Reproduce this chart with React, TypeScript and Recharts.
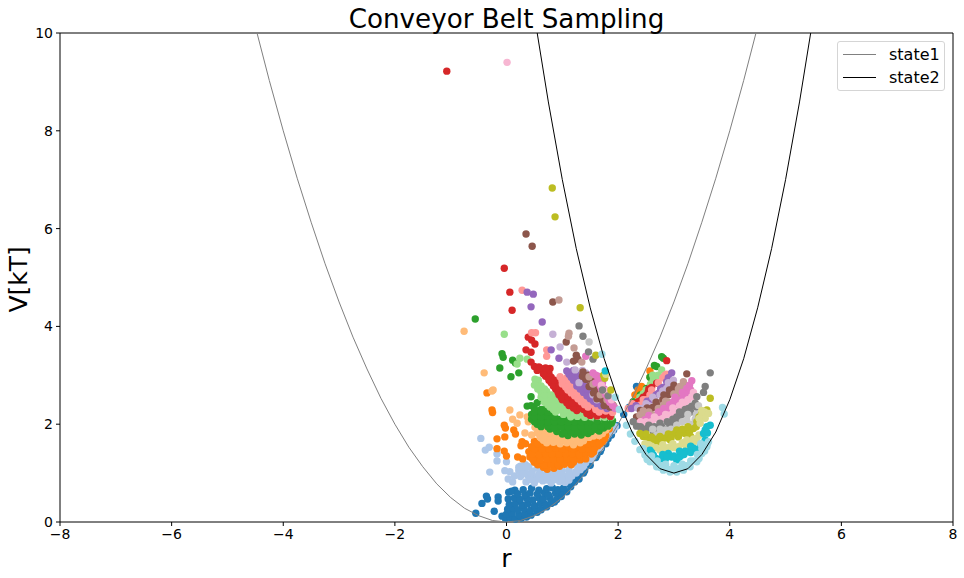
import { ScatterChart, Scatter, XAxis, YAxis, ReferenceLine } from "recharts"

type Pair = [number, number]

const xTicks = [-8, -6, -4, -2, 0, 2, 4, 6, 8]
const yTicks = [0, 2, 4, 6, 8, 10]

const state1Curve: Pair[] = [
  [-4.47, 10], [-4.25, 9.03], [-4, 8], [-3.75, 7.03], [-3.5, 6.13], [-3.25, 5.28], [-3, 4.5], [-2.75, 3.78],
  [-2.5, 3.13], [-2.25, 2.53], [-2, 2], [-1.75, 1.53], [-1.5, 1.13], [-1.25, 0.78], [-1, 0.5], [-0.75, 0.28],
  [-0.5, 0.13], [-0.25, 0.03], [0, 0], [0.25, 0.03], [0.5, 0.13], [0.75, 0.28], [1, 0.5], [1.25, 0.78],
  [1.5, 1.13], [1.75, 1.53], [2, 2], [2.25, 2.53], [2.5, 3.13], [2.75, 3.78], [3, 4.5], [3.25, 5.28],
  [3.5, 6.13], [3.75, 7.03], [4, 8], [4.25, 9.03], [4.47, 10],
]

const state2Curve: Pair[] = [
  [0.55, 10], [0.75, 8.59], [1, 7], [1.25, 5.59], [1.5, 4.38], [1.75, 3.34], [2, 2.5], [2.25, 1.84],
  [2.5, 1.38], [2.75, 1.09], [3, 1], [3.25, 1.09], [3.5, 1.38], [3.75, 1.84], [4, 2.5], [4.25, 3.34],
  [4.5, 4.38], [4.75, 5.59], [5, 7], [5.25, 8.59], [5.45, 10],
]

const blueDots: Pair[] = [
  [-0.55, 0.18], [-0.44, 0.38], [-0.36, 0.53], [-0.34, 0.47], [-0.15, 0.51], [-0.15, 0.43], [-0.22, 0.22], [-0.08, 0.12],
  [0.04, 0.61], [0.15, 0.65], [0.09, 0.63],
  [-0.02, 0.07], [0.07, 0.09], [0.16, 0.06], [0.27, 0.08], [0.36, 0.1],
  [0, 0.16], [0.1, 0.18], [0.22, 0.15], [0.33, 0.17], [0.44, 0.14], [0.55, 0.2],
  [0.02, 0.26], [0.12, 0.28], [0.2, 0.25], [0.31, 0.27], [0.43, 0.24], [0.52, 0.28], [0.62, 0.25], [0.72, 0.31],
  [0.05, 0.36], [0.16, 0.38], [0.28, 0.35], [0.38, 0.37], [0.5, 0.34], [0.61, 0.38], [0.7, 0.36], [0.8, 0.38], [0.86, 0.41],
  [0.03, 0.47], [0.14, 0.49], [0.24, 0.46], [0.36, 0.48], [0.47, 0.45], [0.58, 0.49], [0.66, 0.47], [0.78, 0.49], [0.9, 0.46], [0.98, 0.52],
  [0.2, 0.58], [0.33, 0.56], [0.42, 0.59], [0.55, 0.57], [0.68, 0.6], [0.75, 0.56], [0.88, 0.59], [1, 0.6], [1.08, 0.62],
  [0.3, 0.66], [0.45, 0.69], [0.58, 0.65], [0.72, 0.68], [0.82, 0.7], [0.92, 0.66], [1.02, 0.69], [1.15, 0.72],
  [1.1, 0.8], [1.22, 0.82], [1.3, 0.88], [1.28, 0.93], [1.38, 1], [1.4, 1.05], [1.5, 1.16],
  [1.48, 1.2], [1.6, 1.32], [1.62, 1.37], [1.68, 1.44], [1.7, 1.5], [1.78, 1.6], [1.82, 1.7], [1.88, 1.78], [1.92, 1.88], [1.98, 1.97],
  [2.1, 2.2], [2.2, 2.35], [2.33, 2.77],
]

const lightBlueDots: Pair[] = [
  [-0.46, 1.71], [-0.38, 1.47], [-0.31, 1.53], [-0.17, 1.39], [-0.17, 1.25], [0, 1.23], [-0.3, 1.02], [-0.03, 1.05], [0.06, 1.03],
  [0.03, 0.88], [0.11, 0.82], [0.14, 0.94],
  [0.35, 0.82], [0.5, 0.8], [0.65, 0.84], [0.8, 0.8], [0.95, 0.83], [1.05, 0.81],
  [0.25, 0.93], [0.38, 0.95], [0.52, 0.92], [0.66, 0.94], [0.8, 0.91], [0.92, 0.95], [1.05, 0.93], [1.17, 0.94],
  [0.22, 1.05], [0.33, 1.07], [0.46, 1.04], [0.6, 1.06], [0.75, 1.03], [0.88, 1.07], [1, 1.05], [1.12, 1.06], [1.24, 1.03], [1.32, 1.07],
  [0.25, 1.14], [0.34, 1.17], [1.2, 1.2], [1.32, 1.18], [1.42, 1.21], [1.48, 1.35], [1.55, 1.33], [1.62, 1.5], [1.68, 1.52], [1.74, 1.65], [1.83, 1.8], [1.95, 1.95],
  [0.42, 0.87], [0.58, 0.88], [0.73, 0.86], [0.87, 0.87], [1, 0.88], [1.12, 0.86],
  [0.3, 0.99], [0.44, 1], [0.58, 0.98], [0.72, 0.99], [0.86, 1], [0.98, 0.98], [1.12, 0.99], [1.25, 1], [1.36, 1.12],
  [0.28, 1.12], [0.4, 1.13], [0.55, 1.11], [0.7, 1.1], [1.28, 1.12], [1.38, 1.14], [1.5, 1.28], [1.58, 1.42], [1.66, 1.58], [1.78, 1.72], [1.9, 1.87], [0.22, 1.12],
]

const orangeDots: Pair[] = [
  [-0.35, 2.64], [-0.26, 2.29], [-0.25, 2.24], [-0.04, 1.98], [-0.02, 1.92], [0.13, 1.88], [0.16, 1.8], [-0.03, 1.74], [-0.17, 1.7], [-0.17, 1.5],
  [-0.04, 1.45], [0, 1.35], [0.2, 1.33], [0.29, 1.29], [0.28, 1.64], [0.26, 1.56], [0.34, 1.6],
  [0.66, 1.12], [0.73, 1.08], [0.85, 1.1], [0.95, 1.14],
  [0.5, 1.22], [0.62, 1.2], [0.74, 1.24], [0.86, 1.21], [0.98, 1.23], [1.1, 1.25], [1.2, 1.22],
  [0.42, 1.33], [0.54, 1.31], [0.66, 1.35], [0.78, 1.32], [0.9, 1.34], [1.02, 1.33], [1.14, 1.36], [1.26, 1.32], [1.36, 1.34],
  [0.4, 1.44], [0.52, 1.46], [0.64, 1.43], [0.76, 1.45], [0.88, 1.44], [1, 1.46], [1.12, 1.43], [1.24, 1.45], [1.36, 1.44], [1.48, 1.46], [1.56, 1.43],
  [0.45, 1.54], [0.58, 1.56], [0.7, 1.53], [0.82, 1.55], [0.95, 1.54], [1.08, 1.52], [1.3, 1.53], [1.42, 1.56], [1.52, 1.54], [1.64, 1.56],
  [0.5, 1.65], [0.62, 1.63], [1.5, 1.65], [1.6, 1.67], [1.72, 1.64], [1.68, 1.78], [1.78, 1.77], [1.84, 1.9], [2.3, 2.6], [2.36, 2.7], [2.42, 2.77], [2.57, 3.09],
  [0.56, 1.17], [0.68, 1.16], [0.8, 1.18], [0.92, 1.17], [1.04, 1.18], [1.16, 1.17],
  [0.47, 1.28], [0.6, 1.27], [0.72, 1.29], [0.84, 1.28], [0.96, 1.28], [1.08, 1.29], [1.2, 1.28], [1.32, 1.27], [1.42, 1.29],
  [0.46, 1.39], [0.58, 1.38], [0.7, 1.4], [0.82, 1.39], [0.94, 1.39], [1.06, 1.4], [1.18, 1.39], [1.3, 1.38], [1.42, 1.4], [1.52, 1.39],
  [0.5, 1.5], [0.64, 1.49], [0.76, 1.5], [0.88, 1.51], [1, 1.5], [1.18, 1.5], [1.36, 1.49], [1.47, 1.5], [1.58, 1.51], [1.68, 1.6],
  [0.55, 1.6], [0.68, 1.59], [1.45, 1.6], [1.56, 1.61], [1.66, 1.6], [1.76, 1.7],
]

const lightOrangeDots: Pair[] = [
  [-0.76, 3.9], [-0.4, 3.05], [-0.26, 2.68], [-0.24, 2.7], [0.06, 2.29], [0.24, 2.19], [0.11, 2.1], [0.19, 2.02], [0.37, 2.15], [0.39, 2.05], [0.51, 1.94],
  [0.33, 1.82], [0.45, 1.78], [0.6, 1.74],
  [0.72, 1.62], [0.84, 1.63], [0.96, 1.6], [1.08, 1.62], [1.2, 1.58], [1.32, 1.62],
  [0.62, 1.72], [0.72, 1.74], [0.84, 1.71], [0.98, 1.73], [1.12, 1.7], [1.26, 1.72], [1.38, 1.71], [1.48, 1.73],
  [0.55, 1.82], [0.66, 1.84], [0.78, 1.81], [1.35, 1.8], [1.5, 1.82], [1.62, 1.84], [1.72, 1.81], [0.6, 1.92], [0.7, 1.9], [1.72, 1.92], [1.82, 1.94],
  [2.57, 2.96],
  [0.66, 1.67], [0.78, 1.68], [0.9, 1.66], [1.02, 1.67], [1.14, 1.66], [1.26, 1.67], [1.38, 1.66],
  [0.68, 1.77], [0.9, 1.77], [1.05, 1.76], [1.2, 1.77], [1.32, 1.76], [1.44, 1.77], [1.56, 1.76], [1.66, 1.77],
  [1.56, 1.87], [1.68, 1.87], [1.78, 1.88], [0.72, 1.87],
]

const greenDots: Pair[] = [
  [-0.56, 4.15], [-0.08, 3.44], [-0.06, 3.37], [0.11, 3.31], [0.16, 3.25], [-0.12, 3.15], [0.22, 3.05], [0.08, 2.97],
  [0.44, 2.56], [0.37, 2.37], [0.44, 2.38], [0.64, 2.52],
  [1, 1.8], [1.1, 1.77], [1.22, 1.8], [1.34, 1.78], [1.46, 1.81],
  [0.78, 1.9], [0.9, 1.88], [1.02, 1.91], [1.14, 1.89], [1.26, 1.9], [1.38, 1.88], [1.5, 1.91], [1.62, 1.89], [1.74, 1.92],
  [0.55, 2], [0.68, 2.02], [0.8, 1.99], [0.92, 2.01], [1.04, 2], [1.16, 2.02], [1.28, 1.99], [1.4, 2.01], [1.52, 1.99], [1.64, 2.01], [1.76, 2], [1.88, 2.02],
  [0.45, 2.1], [0.56, 2.12], [0.68, 2.09], [0.8, 2.11], [0.92, 2.1], [1.02, 2.12], [1.12, 2.09],
  [0.45, 2.2], [0.56, 2.22], [0.68, 2.19], [0.8, 2.21], [0.5, 2.32], [0.62, 2.3], [0.72, 2.33], [0.55, 2.44],
  [2.27, 2.46], [2.4, 2.6], [2.51, 2.73], [2.57, 2.96], [2.65, 3.2], [2.69, 3.18], [2.81, 3.35], [2.78, 3.38],
  [0.9, 1.85], [1.04, 1.85], [1.16, 1.84], [1.28, 1.85], [1.4, 1.84], [1.52, 1.85], [1.66, 1.86],
  [0.62, 1.95], [0.74, 1.95], [0.86, 1.94], [0.98, 1.95], [1.1, 1.95], [1.22, 1.94], [1.34, 1.95], [1.46, 1.95], [1.58, 1.94], [1.7, 1.95], [1.82, 1.96],
  [0.5, 2.05], [0.62, 2.05], [0.74, 2.04], [0.86, 2.05], [0.98, 2.05], [1.1, 2.04], [1.22, 2.05], [1.34, 2.05], [1.48, 2.05], [1.62, 2.06], [1.76, 2.06], [1.9, 2.07],
  [0.5, 2.15], [0.62, 2.15], [0.74, 2.16], [0.86, 2.15], [0.5, 2.26], [0.62, 2.26], [0.74, 2.25],
]

const lightGreenDots: Pair[] = [
  [-0.04, 3.84], [0.24, 3.35], [0.37, 3.33], [0.19, 3.23], [0.51, 2.92], [0.57, 2.9], [0.6, 2.77],
  [1.15, 2.15], [1.27, 2.16], [1.4, 2.14], [1.52, 2.15], [1.64, 2.16], [1.76, 2.14], [1.88, 2.15],
  [0.88, 2.25], [1, 2.27], [1.12, 2.24], [1.24, 2.26], [1.36, 2.25], [1.48, 2.24],
  [0.78, 2.35], [0.9, 2.37], [1.02, 2.34], [1.14, 2.36], [0.68, 2.45], [0.8, 2.47], [0.92, 2.44], [1.02, 2.46],
  [0.62, 2.55], [0.74, 2.57], [0.86, 2.54], [0.62, 2.65], [0.72, 2.67], [0.5, 2.8], [0.62, 2.78],
  [2.39, 2.55], [2.5, 2.7], [2.63, 2.9], [2.72, 3], [2.78, 3.11],
  [1.02, 2.2], [1.14, 2.2], [1.26, 2.21], [1.38, 2.2], [1.5, 2.2], [1.62, 2.2], [1.74, 2.19], [1.86, 2.2],
  [0.84, 2.3], [0.96, 2.3], [1.08, 2.3], [1.2, 2.31], [1.32, 2.3], [1.44, 2.3],
  [0.74, 2.4], [0.86, 2.4], [0.98, 2.4], [1.08, 2.41], [1.2, 2.4], [0.68, 2.5], [0.8, 2.51], [0.92, 2.5], [1.02, 2.5],
  [0.68, 2.6], [0.8, 2.6], [0.56, 2.72], [0.68, 2.72],
  [2.45, 2.62], [2.58, 2.82], [2.62, 3], [2.68, 2.98],
]

const redDots: Pair[] = [
  [-1.07, 9.22], [-0.04, 5.19], [0.06, 4.7], [0.1, 4.33], [0.39, 3.78], [0.45, 3.72], [0.51, 3.64], [0.35, 3.52], [0.44, 3.47], [0.44, 3.27],
  [0.5, 3.18], [0.58, 3.17], [0.66, 3.1], [0.78, 3.14], [0.76, 3.04], [0.82, 2.9], [0.9, 2.8],
  [1.5, 2.18], [1.62, 2.17], [1.74, 2.19], [1.86, 2.16],
  [1.26, 2.28], [1.38, 2.3], [1.5, 2.27], [1.12, 2.38], [1.24, 2.4], [1.36, 2.37],
  [1, 2.5], [1.12, 2.52], [1.22, 2.49], [1.32, 2.51], [0.94, 2.6], [1.06, 2.62], [1.16, 2.59],
  [0.88, 2.72], [0.98, 2.7], [0.8, 2.85], [0.7, 2.98], [0.8, 2.96], [0.55, 3.1],
  [2.24, 2.36], [2.36, 2.46], [2.45, 2.55], [2.51, 2.6], [2.54, 2.66], [2.6, 2.75], [2.69, 2.84], [2.87, 3.3],
  [1.44, 2.22], [1.56, 2.23], [1.68, 2.22], [1.8, 2.22], [1.2, 2.33], [1.32, 2.33], [1.44, 2.33], [1.56, 2.32],
  [1.08, 2.44], [1.18, 2.44], [1.3, 2.44], [1.42, 2.43], [0.98, 2.55], [1.1, 2.56], [1.2, 2.55],
  [0.92, 2.66], [1.02, 2.66], [1.14, 2.66], [0.84, 2.78], [0.94, 2.78], [1.04, 2.78], [0.76, 2.9], [0.86, 2.9], [0.96, 2.9],
  [0.66, 3.03], [0.6, 3.15], [0.7, 3.15], [2.3, 2.42], [2.42, 2.5], [2.55, 2.72],
]

const pinkDots: Pair[] = [
  [0.28, 4.74], [0.45, 3.87], [0.52, 3.87], [0.72, 3.52], [0.72, 3.39], [0.96, 2.97], [1, 2.9],
  [1.66, 2.25], [1.78, 2.27], [1.9, 2.24], [1.46, 2.35], [1.58, 2.37], [1.7, 2.34],
  [1.34, 2.46], [1.46, 2.48], [1.58, 2.45], [1.22, 2.58], [1.34, 2.6], [1.46, 2.57],
  [1.1, 2.7], [1.22, 2.72], [1.34, 2.69], [1, 2.82], [1.12, 2.84], [1.24, 2.81], [1.08, 2.95],
  [2.18, 2.32], [2.3, 2.37], [2.39, 2.39], [2.5, 2.5], [2.57, 2.6], [2.84, 3], [2.87, 3.02],
  [1.6, 2.3], [1.72, 2.3], [1.84, 2.3], [1.4, 2.4], [1.52, 2.41], [1.64, 2.4], [1.28, 2.52], [1.4, 2.52], [1.52, 2.51],
  [1.16, 2.64], [1.28, 2.64], [1.4, 2.63], [1.06, 2.76], [1.18, 2.76], [1.3, 2.75], [1, 2.88], [1.12, 2.88],
  [2.25, 2.42], [2.45, 2.5], [2.6, 2.7], [2.72, 2.85], [2.8, 2.95],
]

const purpleDots: Pair[] = [
  [0.37, 4.7], [0.48, 4.66], [0.44, 4.4], [0.64, 4.09], [0.8, 3.52], [0.94, 3.35], [1.08, 3.09],
  [1.8, 2.32], [1.92, 2.34], [1.62, 2.42], [1.74, 2.44], [1.5, 2.52], [1.62, 2.54],
  [1.38, 2.65], [1.5, 2.67], [1.62, 2.64], [1.26, 2.78], [1.38, 2.8], [1.5, 2.77],
  [1.2, 2.9], [1.32, 2.92], [1.44, 2.89], [1.12, 3.02], [1.24, 3], [1.34, 3.03], [1.2, 3.1],
  [2.24, 2.32], [2.45, 2.32], [2.6, 2.5], [2.72, 2.63], [2.8, 2.75], [2.87, 2.87], [2.96, 3.05],
  [1.7, 2.37], [1.84, 2.38], [1.56, 2.47], [1.68, 2.47], [1.44, 2.58], [1.56, 2.58], [1.68, 2.58],
  [1.32, 2.72], [1.44, 2.72], [1.56, 2.72], [1.26, 2.84], [1.38, 2.84], [1.5, 2.84], [1.16, 2.96], [1.28, 2.96], [1.4, 2.96],
  [2.32, 2.38], [2.52, 2.47], [2.68, 2.6], [2.76, 2.72], [2.9, 2.95],
]

const lightPurpleDots: Pair[] = [
  [0.83, 3.84], [0.96, 3.58], [1.08, 3.27], [1.23, 3.11], [1.88, 2.38], [1.72, 2.55], [1.58, 2.78], [1.46, 2.98],
  [1.36, 3.1], [1.3, 2.85], [1.55, 2.6],
  [2.42, 2.32], [2.48, 2.32], [2.55, 2.38], [2.66, 2.49], [2.75, 2.6], [2.87, 2.73], [2.93, 2.8], [2.99, 2.9],
  [1.8, 2.46], [1.66, 2.66], [1.5, 2.86], [1.42, 3.05], [1.62, 2.5],
  [2.35, 2.33], [2.5, 2.42], [2.62, 2.55], [2.8, 2.68], [2.9, 2.85],
]

const brownDots: Pair[] = [
  [0.35, 5.89], [0.46, 5.64], [0.83, 4.5], [1.07, 3.68], [1.25, 3.41], [1.2, 3.29], [1.28, 3.33], [1.37, 3.07], [1.42, 2.92],
  [1.9, 2.4], [1.8, 2.42], [1.72, 2.5], [1.62, 2.52], [1.66, 2.62], [1.56, 2.64], [1.6, 2.75], [1.48, 2.77], [1.54, 2.88], [1.46, 3], [1.36, 2.98],
  [2.33, 2.15], [2.45, 2.22], [2.57, 2.29], [2.62, 2.34], [2.69, 2.39], [2.8, 2.5], [2.9, 2.6], [2.95, 2.66], [2.99, 2.73], [3.23, 3.03],
  [1.85, 2.35], [1.76, 2.46], [1.68, 2.58], [1.52, 2.78], [1.44, 2.92], [1.58, 2.7], [1.75, 2.38],
  [2.4, 2.28], [2.52, 2.33], [2.68, 2.45], [2.82, 2.6], [2.92, 2.7], [3, 2.8],
]

const lightBrownDots: Pair[] = [
  [0.94, 4.54], [1.12, 3.86], [1.11, 3.8], [1.21, 3.56], [1.35, 3.27], [1.48, 2.97], [1.55, 2.82], [1.68, 2.6], [1.8, 2.5], [1.92, 2.38],
  [2.39, 2.19], [2.5, 2.17], [2.63, 2.19], [2.81, 2.39], [2.9, 2.45], [3.05, 2.56], [3.1, 2.65], [3.11, 2.77], [3.17, 2.87], [3.2, 2.8],
  [2.45, 2.27], [2.55, 2.25], [2.72, 2.32], [2.85, 2.47], [3, 2.62], [3.08, 2.72], [3.15, 2.75],
]

const magentaDots: Pair[] = [
  [1.42, 3.39], [1.55, 3.05], [1.64, 2.98], [1.6, 2.85], [1.72, 2.85], [1.7, 2.72], [1.75, 2.72], [1.78, 2.6], [1.85, 2.45], [1.95, 2.32],
  [2.48, 2.09], [2.6, 2.12], [2.69, 2.15], [2.78, 2.2], [2.87, 2.29], [2.99, 2.46], [3.05, 2.4], [3.11, 2.49], [3.17, 2.56], [3.23, 2.73], [3.28, 2.8], [3.32, 2.89],
  [1.9, 2.38], [1.82, 2.52], [1.66, 2.9], [1.76, 2.66], [1.6, 3], [1.68, 2.78],
  [2.55, 2.18], [2.72, 2.25], [2.82, 2.32], [2.92, 2.4], [3.02, 2.55], [3.15, 2.65], [3.25, 2.62], [3.3, 2.7],
]

const lightMagentaDots: Pair[] = [
  [0.01, 9.4], [1.88, 2.5], [1.78, 2.68], [1.7, 2.8],
  [2.45, 1.98], [2.55, 2], [2.6, 2.05], [2.72, 2.09], [2.8, 2.12], [2.93, 2.19], [3, 2.25], [3.11, 2.29], [3.2, 2.4], [3.32, 2.56],
  [2.4, 2.05], [2.5, 2.05], [2.65, 2.15], [2.85, 2.2], [2.98, 2.33], [3.1, 2.38], [3.15, 2.45], [3.25, 2.5], [3.35, 2.65],
]

const grayDots: Pair[] = [
  [1.3, 4.01], [1.37, 3.8], [1.47, 3.48], [1.55, 3.33], [1.72, 2.7], [1.82, 2.58],
  [2.27, 2.05], [2.33, 1.96], [2.4, 1.95], [2.51, 1.91], [2.63, 1.85], [2.7, 1.9], [2.78, 1.95], [2.87, 1.9], [2.93, 1.98], [3, 2],
  [3.08, 2.12], [3.17, 2.2], [3.26, 2.32], [3.32, 2.37], [3.38, 2.43], [3.41, 2.56], [3.53, 2.65], [3.56, 2.77], [3.65, 3.05],
  [2.45, 1.88], [2.55, 1.98], [2.65, 1.95], [2.75, 2.02], [2.88, 2.05], [2.98, 2.1], [3.05, 2.15], [3.1, 2.25], [3.2, 2.3], [3.3, 2.25], [3.4, 2.35],
]

const lightGrayDots: Pair[] = [
  [1.48, 3.68], [2.69, 1.78], [2.8, 1.82], [2.9, 1.78], [3, 1.85], [3.08, 1.88], [3.23, 2.09], [3.3, 2], [3.44, 2.38], [3.53, 2.19],
  [2.62, 1.9], [2.75, 1.9], [2.85, 1.88], [2.95, 1.9], [3.05, 1.98], [3.15, 2.05], [3.25, 2.2], [3.38, 2.1], [3.4, 2.2],
]

const oliveDots: Pair[] = [
  [0.82, 6.83], [0.87, 6.24], [1.32, 4.38], [1.6, 3.41], [1.76, 2.94], [1.74, 3], [1.87, 2.7],
  [2.39, 1.81], [2.45, 1.75], [2.54, 1.71], [2.63, 1.64], [2.7, 1.7], [2.78, 1.64], [2.85, 1.72], [2.93, 1.68], [3, 1.8], [3.08, 1.74],
  [3.2, 1.81], [3.28, 1.85], [3.35, 1.91], [3.41, 2.05], [3.5, 2.22], [3.59, 2.29], [3.65, 2.53],
  [2.5, 1.8], [2.6, 1.74], [2.68, 1.6], [2.75, 1.75], [2.9, 1.8], [2.95, 1.72], [3.05, 1.88], [3.1, 1.8], [3.15, 1.9], [3.25, 1.95], [3.3, 1.75],
  [3.4, 1.95], [3.45, 2.15], [3.55, 2.2],
]

const lightOliveDots: Pair[] = [
  [1.78, 3.02], [2.48, 1.6], [2.6, 1.55], [2.75, 1.47], [2.85, 1.52], [2.93, 1.54], [3.08, 1.54], [3.23, 1.68], [3.3, 1.6], [3.41, 1.71],
  [3.47, 2.02], [3.5, 2.19], [3.55, 2.25], [3.56, 2.12], [3.62, 2.22],
  [2.55, 1.58], [2.68, 1.52], [2.8, 1.58], [2.98, 1.6], [3, 1.52], [3.15, 1.62], [3.2, 1.58], [3.35, 1.7], [3.38, 1.65], [3.45, 1.78], [3.45, 2.12], [3.5, 2.28],
]

const cyanDots: Pair[] = [
  [1.77, 3.09], [2.57, 1.47], [2.63, 1.37], [2.72, 1.27], [2.84, 1.27], [2.9, 1.4], [2.96, 1.33], [3.05, 1.27], [3.14, 1.37], [3.2, 1.45],
  [3.26, 1.44], [3.35, 1.51], [3.47, 1.54], [3.53, 1.81], [3.56, 1.68], [3.56, 1.88], [3.59, 1.95], [3.65, 1.98],
  [2.6, 1.42], [2.68, 1.3], [2.78, 1.3], [2.8, 1.38], [2.88, 1.33], [3, 1.35], [3.1, 1.33], [3.1, 1.45], [3.18, 1.38], [3.3, 1.42], [3.3, 1.55], [3.4, 1.48], [3.52, 1.6], [3.6, 1.82],
]

const lightCyanDots: Pair[] = [
  [1.71, 3.43], [1.95, 2.55], [2.02, 2.3], [2.15, 1.98], [2.22, 1.8], [2.3, 1.65], [2.39, 1.48],
  [2.48, 1.37], [2.57, 1.23], [2.69, 1.13], [2.81, 1.06], [2.93, 1.02], [3.05, 1.02], [3.17, 1.06], [3.29, 1.13], [3.41, 1.23],
  [3.5, 1.4], [3.59, 1.54], [3.62, 1.64], [2.6, 1.35], [2.7, 1.25], [2.75, 1.12], [2.85, 1.18], [3, 1.15], [3.15, 1.18], [3.3, 1.25],
  [3.42, 1.38], [3.5, 1.5], [3.87, 2.34], [3.9, 2.21],
  [2.45, 1.5], [2.52, 1.28], [2.55, 1.32], [2.65, 1.22], [2.78, 1.15], [2.9, 1.08], [3, 1.06], [3.1, 1.1], [3.22, 1.15], [3.35, 1.25], [3.45, 1.3],
  [3.55, 1.45], [3.48, 1.6], [3.6, 1.6],
]

const dotSeries: [Pair[], string][] = [
  [blueDots, "#1f77b4"], [lightBlueDots, "#aec7e8"], [orangeDots, "#ff7f0e"], [lightOrangeDots, "#ffbb78"],
  [greenDots, "#2ca02c"], [lightGreenDots, "#98df8a"], [redDots, "#d62728"], [pinkDots, "#ff9896"],
  [purpleDots, "#9467bd"], [lightPurpleDots, "#c5b0d5"], [brownDots, "#8c564b"], [lightBrownDots, "#c49c94"],
  [magentaDots, "#e377c2"], [lightMagentaDots, "#f7b6d2"], [grayDots, "#7f7f7f"], [lightGrayDots, "#c7c7c7"],
  [oliveDots, "#bcbd22"], [lightOliveDots, "#dbdb8d"], [cyanDots, "#17becf"], [lightCyanDots, "#9edae5"],
]

const toRows = (pairs: Pair[]) => pairs.map(([r, V]) => ({ r, V }))

const font = "'DejaVu Sans'"
const tickStyle = { fontSize: 14, fill: "#000", fontFamily: font }

function Dot(props: any) {
  return <circle cx={props.cx} cy={props.cy} r={3.7} fill={props.fill} />
}

function LegendBox() {
  const rows = [
    { name: "state1", color: "gray" },
    { name: "state2", color: "black" },
  ]
  return (
    <div
      style={{
        position: "absolute",
        left: 837,
        top: 41,
        boxSizing: "border-box",
        width: 108,
        height: 50,
        padding: "1px 0 0 5px",
        border: "1px solid #d5d5d5",
        borderRadius: 3,
        background: "#fff",
        fontFamily: font,
        fontSize: 16,
        lineHeight: "23px",
      }}
    >
      {rows.map((row) => (
        <div key={row.name} style={{ display: "flex", alignItems: "center", height: 23 }}>
          <span style={{ width: 33, height: 1, background: row.color, marginRight: 13 }} />
          {row.name}
        </div>
      ))}
    </div>
  )
}

export default function App() {
  return (
    <div style={{ position: "absolute", left: 0, top: 0, width: 964, height: 578, background: "#fff" }}>
      <ScatterChart width={964} height={578} margin={{ top: 33, right: 11, bottom: 0, left: 0 }}>
        <XAxis
          type="number"
          dataKey="r"
          domain={[-8, 8]}
          ticks={xTicks}
          interval={0}
          height={56}
          tickSize={4}
          tickMargin={3}
          stroke="#000"
          tick={tickStyle}
          tickFormatter={(v: number) => String(v).replace("-", "\u2212")}
          label={{ value: "r", position: "insideBottom", offset: 11, fontSize: 25, fill: "#000", fontFamily: font }}
        />
        <YAxis
          type="number"
          dataKey="V"
          domain={[0, 10]}
          ticks={yTicks}
          interval={0}
          width={60}
          tickSize={4}
          tickMargin={3}
          stroke="#000"
          tick={tickStyle}
          label={{ value: "V[kT]", angle: -90, position: "insideLeft", offset: 18, dy: 35, fontSize: 25, fill: "#000", fontFamily: font }}
        />
        {dotSeries.map(([pairs, color], i) => (
          <Scatter key={i} data={toRows(pairs)} fill={color} shape={Dot} isAnimationActive={false} />
        ))}
        <Scatter
          data={toRows(state1Curve)}
          line={{ stroke: "gray", strokeWidth: 1 }}
          lineType="joint"
          shape={() => null}
          isAnimationActive={false}
        />
        <Scatter
          data={toRows(state2Curve)}
          line={{ stroke: "black", strokeWidth: 1 }}
          lineType="joint"
          shape={() => null}
          isAnimationActive={false}
        />
        <ReferenceLine y={10} stroke="#000" />
        <ReferenceLine x={8} stroke="#000" />
      </ScatterChart>
      <div
        style={{
          position: "absolute",
          left: 60,
          width: 893,
          top: 1,
          textAlign: "center",
          fontFamily: font,
          fontSize: 26.2,
          lineHeight: "36px",
          color: "#000",
        }}
      >
        Conveyor Belt Sampling
      </div>
      <LegendBox />
    </div>
  )
}
